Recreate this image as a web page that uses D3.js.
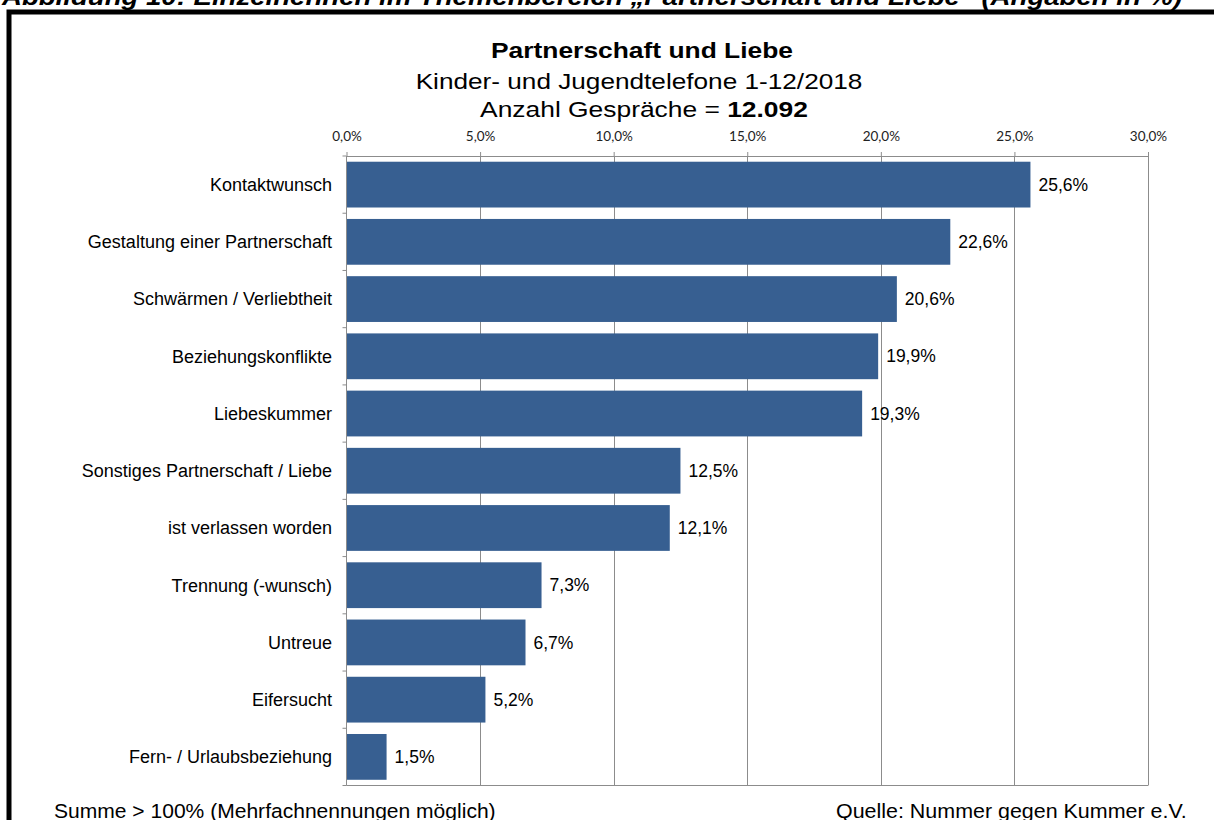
<!DOCTYPE html>
<html><head><meta charset="utf-8">
<script src="https://cdn.jsdelivr.net/npm/d3@7"></script>
<style>
html,body{margin:0;padding:0;background:#fff;overflow:hidden;}
svg{display:block;}
</style></head>
<body>
<script>
const categories = ["Kontaktwunsch","Gestaltung einer Partnerschaft","Schwärmen / Verliebtheit","Beziehungskonflikte","Liebeskummer","Sonstiges Partnerschaft / Liebe","ist verlassen worden","Trennung (-wunsch)","Untreue","Eifersucht","Fern- / Urlaubsbeziehung"];
const values = [25.6,22.6,20.6,19.9,19.3,12.5,12.1,7.3,6.7,5.2,1.5];
const tickValues = [0,5,10,15,20,25,30];
const headerText = "Abbildung 10: Einzelnennen im Themenbereich „Partnerschaft und Liebe“ (Angaben in %)";
const titleLines = ["Partnerschaft und Liebe","Kinder- und Jugendtelefone 1-12/2018"];
const countLabel = "Anzahl Gespräche = ";
const countValue = "12.092";
const footLeft = "Summe > 100% (Mehrfachnennungen möglich)";
const footRight = "Quelle: Nummer gegen Kummer e.V.";

const W=1214,H=820;
const FONT="Liberation Sans, Arial, sans-serif";
const svg=d3.select("body").append("svg").attr("width",W).attr("height",H);
const fmt = v => d3.format(".1f")(v).replace(".",",")+"%";

// stretched text helper
function stext(x,y,sx,size,anchor){
  return svg.append("text").attr("transform",`translate(${x},${y}) scale(${sx},1)`)
    .attr("font-family",FONT).attr("font-size",size).attr("text-anchor",anchor||"start").attr("fill","#000");
}

// header (clipped at top)
stext(2,5,1.2,23).attr("font-weight","bold").attr("font-style","italic").text(headerText);

// frame
svg.append("rect").attr("x",9).attr("y",12).attr("width",W+20).attr("height",H+20)
  .attr("fill","none").attr("stroke","#000").attr("stroke-width",5);

const m={left:346.5,right:1148,top:156,bottom:785.5};
const x=d3.scaleLinear().domain([0,30]).range([m.left,m.right]);
const y=d3.scaleBand().domain(categories).range([m.top,m.bottom]).paddingInner(0.2).paddingOuter(0.1);

// grid
svg.append("g").selectAll("line").data(tickValues.slice(1)).join("line")
  .attr("x1",d=>Math.round(x(d))+0.5).attr("x2",d=>Math.round(x(d))+0.5)
  .attr("y1",m.top).attr("y2",m.bottom).attr("stroke","#8c8c8c").attr("stroke-width",1);
svg.append("line").attr("x1",m.left).attr("x2",m.right).attr("y1",m.bottom).attr("y2",m.bottom)
  .attr("stroke","#8c8c8c");

// top axis
const xa=svg.append("g").attr("transform",`translate(0,${m.top})`)
  .call(d3.axisTop(x).tickValues(tickValues).tickSize(4).tickSizeOuter(0).tickFormat(fmt));
xa.select(".domain").attr("stroke","#8c8c8c");
xa.selectAll(".tick line").attr("stroke","#8c8c8c");
xa.selectAll(".tick text").attr("font-family","Lato, 'Open Sans', sans-serif").attr("font-size",13.5)
  .attr("fill","#222").attr("dy","-8");

// bars
svg.append("g").selectAll("rect").data(values).join("rect")
  .attr("x",x(0)).attr("y",(d,i)=>y(categories[i]))
  .attr("width",d=>x(d)-x(0)).attr("height",y.bandwidth())
  .attr("fill","#375f91");

// left axis
svg.append("line").attr("x1",m.left).attr("x2",m.left).attr("y1",m.top).attr("y2",m.bottom).attr("stroke","#8c8c8c");
const bounds = d3.range(categories.length+1).map(i=>m.top+i*(m.bottom-m.top)/categories.length);
svg.append("g").selectAll("line").data(bounds).join("line")
  .attr("x1",m.left-4).attr("x2",m.left).attr("y1",d=>d).attr("y2",d=>d).attr("stroke","#8c8c8c");

// category labels
svg.append("g").selectAll("text").data(categories).join("text")
  .attr("x",332).attr("y",d=>y(d)+y.bandwidth()/2).attr("dy","0.35em")
  .attr("text-anchor","end").attr("font-family",FONT)
  .attr("font-size",18).attr("fill","#000").text(d=>d);

// value labels
svg.append("g").selectAll("text").data(values).join("text")
  .attr("x",d=>x(d)+8).attr("y",(d,i)=>y(categories[i])+y.bandwidth()/2).attr("dy","0.35em")
  .attr("font-family",FONT)
  .attr("font-size",17.5).attr("fill","#000").text(d=>fmt(d));

// titles
const tx=642;
stext(tx,58,1.2,22,"middle").attr("font-weight","bold").text(titleLines[0]);
stext(tx-3,89,1.19,22,"middle").text(titleLines[1]);
const t3=stext(tx+2,117,1.2,22,"middle");
t3.append("tspan").text(countLabel);
t3.append("tspan").attr("font-weight","bold").text(countValue);

// footers
stext(54,818,1.08,19.5).text(footLeft);
stext(836,818,1.1,19.5).text(footRight);
</script>
</body></html>
